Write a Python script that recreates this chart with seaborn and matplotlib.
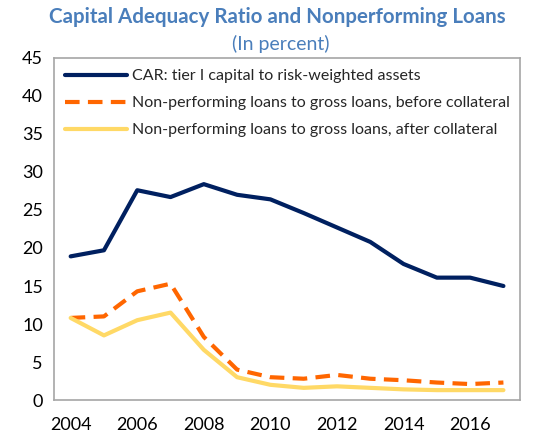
import numpy as np
import pandas as pd
import matplotlib
matplotlib.use("Agg")
import matplotlib.pyplot as plt
import seaborn as sns

years = list(range(2004, 2018))
car = [18.9, 19.7, 27.6, 26.7, 28.4, 27.0, 26.4, 24.6, 22.7, 20.8, 17.9, 16.1, 16.1, 15.0]
npl_before = [10.8, 11.0, 14.3, 15.3, 8.3, 4.0, 3.0, 2.8, 3.3, 2.8, 2.6, 2.3, 2.1, 2.3]
npl_after = [10.8, 8.5, 10.5, 11.5, 6.6, 3.0, 2.0, 1.6, 1.8, 1.6, 1.4, 1.3, 1.3, 1.3]
labels = ["CAR: tier I capital to risk-weighted assets",
          "Non-performing loans to gross loans, before collateral",
          "Non-performing loans to gross loans, after collateral"]
colors = ["#002060", "#FF6600", "#FFD966"]
y_ticks = list(range(0, 50, 5))
x_labels = [2004, 2006, 2008, 2010, 2012, 2014, 2016]

sns.set_style("white")
plt.rcParams['font.family'] = ['Lato', 'DejaVu Sans']

fig = plt.figure(figsize=(5.44, 4.45), dpi=100)
ax = fig.add_axes([0.0993, 0.1011, 0.8567, 0.7686])

df = pd.DataFrame({"year": years, "car": car, "before": npl_before, "after": npl_after})
sns.lineplot(data=df, x="year", y="car", ax=ax, color=colors[0], lw=3, label=labels[0])
sns.lineplot(data=df, x="year", y="before", ax=ax, color=colors[1], lw=3, label=labels[1])
ax.lines[-1].set_dashes([3.5, 2])
sns.lineplot(data=df, x="year", y="after", ax=ax, color=colors[2], lw=3, label=labels[2])

ax.set_xlim(2003.5, 2017.5)
ax.set_ylim(0, 45)
ax.set_yticks(y_ticks)
ax.set_xticks(x_labels)
ax.set_xticks(np.arange(2004.5, 2017, 1), minor=True)
ax.tick_params(axis="x", which="major", length=0, labelsize=13, pad=12, colors="black")
ax.tick_params(axis="x", which="minor", length=6, direction="in", color="#A6A6A6", width=1)
ax.tick_params(axis="y", length=5, direction="out", color="#A6A6A6", labelsize=13, pad=3)
ax.tick_params(axis="y", colors="#A6A6A6", labelcolor="black")
ax.set_xlabel("")
ax.set_ylabel("")
for s in ax.spines.values():
    s.set_color("#A6A6A6")
    s.set_linewidth(1.2)

leg = ax.legend(loc="upper left", frameon=False, fontsize=11.5, handlelength=3.9,
                handletextpad=0.3, labelspacing=0.8, borderaxespad=0.3,
                bbox_to_anchor=(0.0, 1.0))

fig.text(0.51, 0.962, "Capital Adequacy Ratio and Nonperforming Loans", ha="center", va="center",
         fontsize=14.8, fontweight="bold", color="#4A7EBB")
fig.text(0.516, 0.902, "(In percent)", ha="center", va="center", fontsize=14, color="#4A7EBB")

fig.savefig("out.png", dpi=100)
